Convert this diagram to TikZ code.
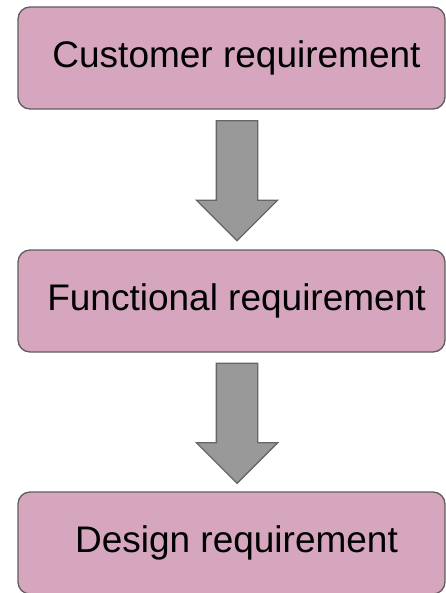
\documentclass[tikz,border=0pt]{standalone}
\usepackage{fontspec}
\setmainfont{Liberation Sans}
\usetikzlibrary{positioning}
\usetikzlibrary{calc}
\usetikzlibrary{shapes.arrows}
\definecolor{boxpink}{HTML}{D5A6BD}
\definecolor{boxline}{HTML}{5E5E5E}
\definecolor{arrowgray}{HTML}{999999}
\definecolor{arrowline}{HTML}{666666}

\tikzset{
  reqbox/.style={draw=boxline, fill=boxpink, line width=1.3pt, rounded corners=12pt,
    minimum width=427pt, minimum height=102pt, inner sep=0pt,
    font=\fontsize{37}{44}\selectfont},
  downarrow/.style={single arrow, draw=arrowline, fill=arrowgray, line width=1.3pt,
    shape border rotate=270, minimum height=120pt,
    single arrow head extend=20pt, inner sep=20pt}
}

\begin{document}
\begin{tikzpicture}[x=1pt, y=-1pt]
        \useasboundingbox (0,0) rectangle (446,593);
        % nodes %
        \node[reqbox] (cust) at (231.5,58) {\hspace{10pt}Customer requirement};
        \node[reqbox] (func) at (231.5,301) {\hspace{10pt}Functional requirement};
        \node[reqbox] (design) at (231.5,543) {\hspace{10pt}Design requirement};

        % edges %
        \node[downarrow, xshift=5.5pt, yshift=9pt] (a1) at ($(cust.south)!0.5!(func.north)$) {};
        \node[downarrow, xshift=5.5pt, yshift=9pt] (a2) at ($(func.south)!0.5!(design.north)$) {};
      \end{tikzpicture}
\end{document}
